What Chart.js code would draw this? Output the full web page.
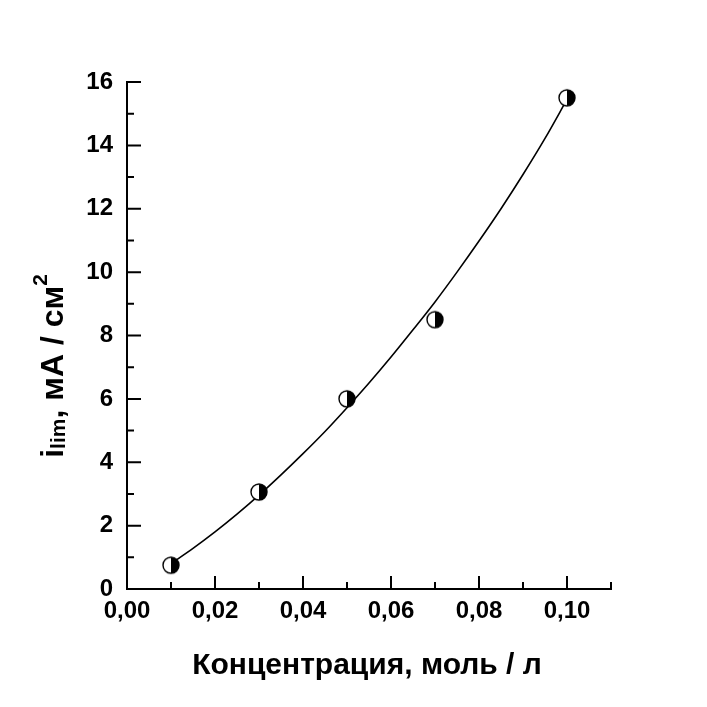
<!DOCTYPE html>
<html><head><meta charset="utf-8">
<script src="https://cdn.jsdelivr.net/npm/chart.js@4/dist/chart.umd.min.js"></script>
<style>html,body{margin:0;padding:0;background:#fff}#wrap{width:707px;height:707px;position:relative}</style>
</head><body><div id="wrap"><canvas id="c" width="707" height="707" style="width:707px;height:707px"></canvas></div>
<script>
// measured points
const concentrations = [0.01, 0.03, 0.05, 0.07, 0.10];
const currents = [0.75, 3.06, 6.0, 8.5, 15.5];
// fitted curve
const fitX = [0.010, 0.015, 0.020, 0.025, 0.030, 0.035, 0.040, 0.045, 0.050, 0.055, 0.060, 0.065, 0.070, 0.075, 0.080, 0.085, 0.090, 0.095, 0.100];
const fitY = [0.80, 1.28, 1.80, 2.36, 2.96, 3.60, 4.27, 4.97, 5.72, 6.50, 7.32, 8.18, 9.06, 10.00, 10.98, 12.00, 13.08, 14.22, 15.45];
// ticks
const xTickValues = [0, 0.02, 0.04, 0.06, 0.08, 0.10];
const xMinorValues = [0.01, 0.03, 0.05, 0.07, 0.09, 0.11];
const yTickValues = [0, 2, 4, 6, 8, 10, 12, 14, 16];
const yMinorValues = [1, 3, 5, 7, 9, 11, 13, 15];
const xTitle = 'Концентрация, моль / л';
const yTitleParts = { main: 'i', sub: 'lim', rest: ', мА / см', sup: '2' };

const FONT = '"Liberation Sans", Arial, sans-serif';

// half-filled circle marker
function makeMarker() {
  const s = 22, c = document.createElement('canvas');
  c.width = s; c.height = s;
  const g = c.getContext('2d');
  const r = 8, cx = s / 2, cy = s / 2;
  g.beginPath(); g.arc(cx, cy, r, 0, Math.PI * 2); g.fillStyle = '#fff'; g.fill();
  g.beginPath(); g.moveTo(cx, cy - r); g.arc(cx, cy, r, -Math.PI / 2, Math.PI / 2); g.closePath(); g.fillStyle = '#000'; g.fill();
  g.beginPath(); g.arc(cx, cy, r, 0, Math.PI * 2); g.lineWidth = 1.4; g.strokeStyle = '#000'; g.stroke();
  return c;
}

const decorPlugin = {
  id: 'decor',
  afterDraw(chart) {
    const ctx = chart.ctx, xs = chart.scales.x, ys = chart.scales.y, ca = chart.chartArea;
    ctx.save();
    ctx.strokeStyle = '#000'; ctx.lineWidth = 2; ctx.lineCap = 'butt';
    ctx.beginPath();
    xTickValues.forEach(v => { const p = xs.getPixelForValue(v); ctx.moveTo(p, ca.bottom); ctx.lineTo(p, ca.bottom - 13); });
    xMinorValues.forEach(v => { const p = xs.getPixelForValue(v); ctx.moveTo(p, ca.bottom); ctx.lineTo(p, ca.bottom - 7); });
    yTickValues.forEach(v => { const p = ys.getPixelForValue(v); ctx.moveTo(ca.left, p); ctx.lineTo(ca.left + 14, p); });
    yMinorValues.forEach(v => { const p = ys.getPixelForValue(v); ctx.moveTo(ca.left, p); ctx.lineTo(ca.left + 7, p); });
    ctx.stroke();

    // x title
    ctx.fillStyle = '#000';
    ctx.font = 'bold 30px ' + FONT;
    ctx.textAlign = 'center'; ctx.textBaseline = 'alphabetic';
    ctx.fillText(xTitle, 367, 674);

    // y title (rotated)
    ctx.translate(63, 366);
    ctx.rotate(-Math.PI / 2);
    ctx.textAlign = 'left';
    const big = 'bold 32px ' + FONT, small = 'bold 21px ' + FONT;
    ctx.font = big; const w1 = ctx.measureText(yTitleParts.main).width;
    ctx.font = small; const w2 = ctx.measureText(yTitleParts.sub).width;
    ctx.font = big; const w3 = ctx.measureText(yTitleParts.rest).width;
    ctx.font = small; const w4 = ctx.measureText(yTitleParts.sup).width;
    let x0 = -(w1 + w2 + w3 + w4) / 2;
    ctx.font = big; ctx.fillText(yTitleParts.main, x0, 0); x0 += w1;
    ctx.font = small; ctx.fillText(yTitleParts.sub, x0, 2); x0 += w2;
    ctx.font = big; ctx.fillText(yTitleParts.rest, x0, 0); x0 += w3;
    ctx.font = small; ctx.fillText(yTitleParts.sup, x0, -16);
    ctx.restore();
  }
};

new Chart(document.getElementById('c'), {
  type: 'scatter',
  plugins: [decorPlugin],
  data: {
    datasets: [
      {
        label: 'fit', type: 'line',
        data: fitX.map((x, i) => ({ x, y: fitY[i] })),
        borderColor: '#000', borderWidth: 1.6, pointRadius: 0, fill: false,
        cubicInterpolationMode: 'monotone', order: 2
      },
      {
        label: 'data',
        data: concentrations.map((x, i) => ({ x, y: currents[i] })),
        pointStyle: makeMarker(), pointRadius: 9, order: 1
      }
    ]
  },
  options: {
    responsive: false, maintainAspectRatio: false, animation: false, devicePixelRatio: 1,
    layout: { padding: { left: 0, top: 82, right: 96, bottom: 0 } },
    plugins: { legend: { display: false }, tooltip: { enabled: false } },
    scales: {
      x: {
        type: 'linear', min: 0, max: 0.11,
        afterBuildTicks: s => { s.ticks = xTickValues.map(v => ({ value: v })); },
        afterFit: s => { s.height = 118; },
        grid: { display: false, drawTicks: false },
        border: { display: true, color: '#000', width: 2 },
        ticks: { color: '#000', padding: 8, maxRotation: 0, font: { family: FONT, size: 24, weight: 'bold' },
          callback: v => v.toFixed(2).replace('.', ',') }
      },
      y: {
        type: 'linear', min: 0, max: 16,
        afterBuildTicks: s => { s.ticks = yTickValues.map(v => ({ value: v })); },
        afterFit: s => { s.width = 127; },
        grid: { display: false, drawTicks: false },
        border: { display: true, color: '#000', width: 2 },
        ticks: { color: '#000', padding: 14, font: { family: FONT, size: 24, weight: 'bold' },
          callback: v => String(v) }
      }
    }
  }
});
</script>
</body></html>
